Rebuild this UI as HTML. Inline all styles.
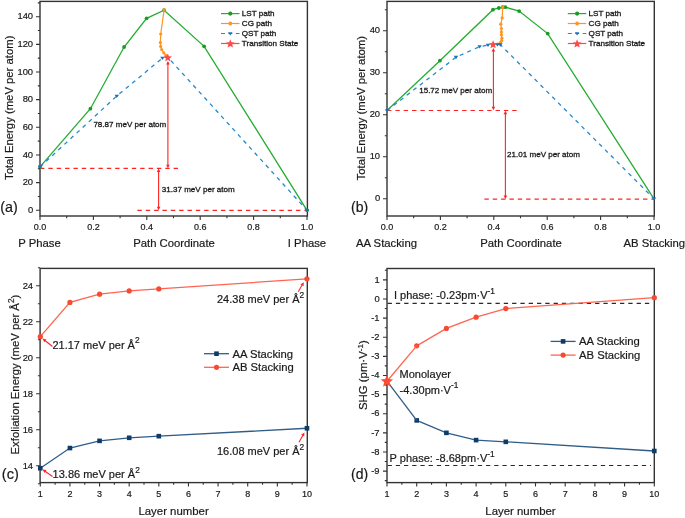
<!DOCTYPE html><html><head><meta charset="utf-8"><style>html,body{margin:0;padding:0;background:#fff;}svg{display:block;will-change:transform;}</style></head><body>
<svg width="685" height="518" viewBox="0 0 685 518" font-family='"Liberation Sans", sans-serif'>
<style>text{stroke:#1a1a1a;stroke-width:0.2px;}</style>
<rect width="685" height="518" fill="#fff"/>
<rect x="40" y="1.4" width="267.4" height="214.6" fill="none" stroke="#333333" stroke-width="1.4"/>
<line x1="40" y1="168.4" x2="178.8" y2="168.4" stroke="#ff2424" stroke-width="1.1" stroke-dasharray="4.4 3.95"/>
<line x1="137.4" y1="210.4" x2="307" y2="210.4" stroke="#ff2424" stroke-width="1.1" stroke-dasharray="4.4 3.95"/>
<line x1="167.9" y1="63.1" x2="167.9" y2="166.1" stroke="#ff2424" stroke-width="1.1"/>
<polygon points="167.9,61 166.1,64.5 169.7,64.5" fill="#ff2424"/>
<polygon points="167.9,168.2 166.1,164.7 169.7,164.7" fill="#ff2424"/>
<line x1="158.6" y1="170.7" x2="158.6" y2="208.1" stroke="#ff2424" stroke-width="1.1"/>
<polygon points="158.6,168.6 156.8,172.1 160.4,172.1" fill="#ff2424"/>
<polygon points="158.6,210.2 156.8,206.7 160.4,206.7" fill="#ff2424"/>
<polyline points="40,166.92 90.4,108.7 124.1,47 146.6,18.3 164.1,10.2 204.1,46.3 307,210.3" fill="none" stroke="#25ad32" stroke-width="1.3"/>
<circle cx="40" cy="166.92" r="1.9" fill="#1b9a25"/>
<circle cx="90.4" cy="108.7" r="1.9" fill="#1b9a25"/>
<circle cx="124.1" cy="47" r="1.9" fill="#1b9a25"/>
<circle cx="146.6" cy="18.3" r="1.9" fill="#1b9a25"/>
<circle cx="164.1" cy="10.2" r="1.9" fill="#1b9a25"/>
<circle cx="204.1" cy="46.3" r="1.9" fill="#1b9a25"/>
<circle cx="307" cy="210.3" r="1.9" fill="#1b9a25"/>
<polyline points="164.1,10.2 160.7,34 160.4,42.6 160.7,46.4 161.7,49.6 163.8,52.8 166,55.3 167.8,57.5" fill="none" stroke="#ff951f" stroke-width="1.2"/>
<circle cx="160.7" cy="34" r="1.6" fill="#ff951f"/>
<circle cx="160.4" cy="42.6" r="1.6" fill="#ff951f"/>
<circle cx="160.7" cy="46.4" r="1.6" fill="#ff951f"/>
<circle cx="161.7" cy="49.6" r="1.6" fill="#ff951f"/>
<circle cx="163.8" cy="52.8" r="1.6" fill="#ff951f"/>
<circle cx="166" cy="55.3" r="1.6" fill="#ff951f"/>
<rect x="162.6" y="8.7" width="3" height="3" fill="#ff951f"/>
<polyline points="40,166.92 116.8,96 162.4,58.1 167.3,56.7 307,210.3" fill="none" stroke="#2389d2" stroke-width="1.3" stroke-dasharray="4 4.3"/>
<polygon points="37.76,165.57 42.24,165.57 40,168.93" fill="#1b72b8"/>
<polygon points="114.56,94.66 119.04,94.66 116.8,98.02" fill="#1b72b8"/>
<polygon points="160.16,56.76 164.64,56.76 162.4,60.12" fill="#1b72b8"/>
<polygon points="304.76,208.96 309.24,208.96 307,212.32" fill="#1b72b8"/>
<polygon points="167.8,53.4 168.95,56.32 172.08,56.51 169.65,58.5 170.45,61.54 167.8,59.85 165.15,61.54 165.95,58.5 163.52,56.51 166.65,56.32" fill="#ff4848"/>
<text x="93.4" y="127.2" font-size="8.05" text-anchor="start" fill="#1a1a1a" style="stroke-width:0.3px">78.87 meV per atom</text>
<text x="161.8" y="192.4" font-size="8.05" text-anchor="start" fill="#1a1a1a" style="stroke-width:0.3px">31.37 meV per atom</text>
<path d="M36 210.3H40M36 182.64H40M36 154.98H40M36 127.32H40M36 99.66H40M36 72H40M36 44.34H40M36 16.68H40M37.8 196.47H40M37.8 168.81H40M37.8 141.15H40M37.8 113.49H40M37.8 85.83H40M37.8 58.17H40M37.8 30.51H40M37.8 2.85H40" stroke="#333333" stroke-width="1.1" fill="none"/>
<path d="M40 216V220M93.4 216V220M146.8 216V220M200.2 216V220M253.6 216V220M307 216V220M66.7 216V218.2M120.1 216V218.2M173.5 216V218.2M226.9 216V218.2M280.3 216V218.2" stroke="#333333" stroke-width="1.1" fill="none"/>
<text x="33.1" y="212.9" font-size="9.4" text-anchor="end" fill="#1a1a1a">0</text>
<text x="33.1" y="185.24" font-size="9.4" text-anchor="end" fill="#1a1a1a">20</text>
<text x="33.1" y="157.58" font-size="9.4" text-anchor="end" fill="#1a1a1a">40</text>
<text x="33.1" y="129.92" font-size="9.4" text-anchor="end" fill="#1a1a1a">60</text>
<text x="33.1" y="102.26" font-size="9.4" text-anchor="end" fill="#1a1a1a">80</text>
<text x="33.1" y="74.6" font-size="9.4" text-anchor="end" fill="#1a1a1a">100</text>
<text x="33.1" y="46.94" font-size="9.4" text-anchor="end" fill="#1a1a1a">120</text>
<text x="33.1" y="19.28" font-size="9.4" text-anchor="end" fill="#1a1a1a">140</text>
<text x="40" y="230.3" font-size="9" text-anchor="middle" fill="#1a1a1a">0.0</text>
<text x="93.4" y="230.3" font-size="9" text-anchor="middle" fill="#1a1a1a">0.2</text>
<text x="146.8" y="230.3" font-size="9" text-anchor="middle" fill="#1a1a1a">0.4</text>
<text x="200.2" y="230.3" font-size="9" text-anchor="middle" fill="#1a1a1a">0.6</text>
<text x="253.6" y="230.3" font-size="9" text-anchor="middle" fill="#1a1a1a">0.8</text>
<text x="307" y="230.3" font-size="9" text-anchor="middle" fill="#1a1a1a">1.0</text>
<text x="39.5" y="247.3" font-size="11.3" text-anchor="middle" fill="#1a1a1a">P Phase</text>
<text x="174" y="247.3" font-size="11.3" text-anchor="middle" fill="#1a1a1a">Path Coordinate</text>
<text x="307" y="247.3" font-size="11.3" text-anchor="middle" fill="#1a1a1a">I Phase</text>
<text x="0.3" y="212" font-size="14.3" text-anchor="start" fill="#1a1a1a">(a)</text>
<text transform="translate(12.6 107.8) rotate(-90)" font-size="11.3" text-anchor="middle" fill="#1a1a1a">Total Energy (meV per atom)</text>
<line x1="221" y1="13.6" x2="239.5" y2="13.6" stroke="#25ad32" stroke-width="1.2"/>
<circle cx="230.3" cy="13.6" r="2.1" fill="#1b9a25"/>
<line x1="221" y1="23.5" x2="239.5" y2="23.5" stroke="#ff951f" stroke-width="1.2"/>
<circle cx="230.3" cy="23.5" r="1.9" fill="#ff951f"/>
<line x1="221" y1="33.5" x2="239.5" y2="33.5" stroke="#2389d2" stroke-width="1.2" stroke-dasharray="4 3.4"/>
<polygon points="228.06,32.16 232.54,32.16 230.3,35.52" fill="#1b72b8"/>
<line x1="221" y1="43.5" x2="239.5" y2="43.5" stroke="#ff4848" stroke-width="1.2"/>
<polygon points="230.3,39.3 231.48,42.28 234.67,42.48 232.2,44.52 233,47.62 230.3,45.9 227.6,47.62 228.4,44.52 225.93,42.48 229.12,42.28" fill="#ff4848"/>
<text x="241.8" y="16.1" font-size="8.1" text-anchor="start" fill="#1a1a1a" style="stroke-width:0.32px">LST path</text>
<text x="241.8" y="26" font-size="8.1" text-anchor="start" fill="#1a1a1a" style="stroke-width:0.32px">CG path</text>
<text x="241.8" y="36" font-size="8.1" text-anchor="start" fill="#1a1a1a" style="stroke-width:0.32px">QST path</text>
<text x="241.8" y="46" font-size="8.1" text-anchor="start" fill="#1a1a1a" style="stroke-width:0.32px">Transition State</text>
<rect x="387" y="1.4" width="267.3" height="214.6" fill="none" stroke="#333333" stroke-width="1.4"/>
<line x1="387" y1="110.5" x2="517.8" y2="110.5" stroke="#ff2424" stroke-width="1.1" stroke-dasharray="4.4 3.95"/>
<line x1="484.4" y1="199.1" x2="654" y2="199.1" stroke="#ff2424" stroke-width="1.1" stroke-dasharray="4.4 3.95"/>
<line x1="493.4" y1="50.1" x2="493.4" y2="108.2" stroke="#ff2424" stroke-width="1.1"/>
<polygon points="493.4,48 491.6,51.5 495.2,51.5" fill="#ff2424"/>
<polygon points="493.4,110.3 491.6,106.8 495.2,106.8" fill="#ff2424"/>
<line x1="505.4" y1="112.8" x2="505.4" y2="196.8" stroke="#ff2424" stroke-width="1.1"/>
<polygon points="505.4,110.7 503.6,114.2 507.2,114.2" fill="#ff2424"/>
<polygon points="505.4,198.9 503.6,195.4 507.2,195.4" fill="#ff2424"/>
<polyline points="387,110.56 439.9,60.7 493,9.7 498.8,8 502.7,7.2 505.3,7.2 519.1,11.1 547.7,33.6 654,198.8" fill="none" stroke="#25ad32" stroke-width="1.3"/>
<circle cx="439.9" cy="60.7" r="1.9" fill="#1b9a25"/>
<circle cx="493" cy="9.7" r="1.9" fill="#1b9a25"/>
<circle cx="498.8" cy="8" r="1.9" fill="#1b9a25"/>
<circle cx="502.7" cy="7.2" r="1.9" fill="#1b9a25"/>
<circle cx="505.3" cy="7.2" r="1.9" fill="#1b9a25"/>
<circle cx="519.1" cy="11.1" r="1.9" fill="#1b9a25"/>
<circle cx="547.7" cy="33.6" r="1.9" fill="#1b9a25"/>
<polyline points="502.7,7.2 502.2,17.9 500.8,24.2 501.4,28.5 501.4,31.9 501.4,34.8 501.9,38.2 501.7,40.6 500.5,42.6 497.5,44 493.4,44.6" fill="none" stroke="#ff951f" stroke-width="1.2"/>
<circle cx="502.2" cy="17.9" r="1.6" fill="#ff951f"/>
<circle cx="500.8" cy="24.2" r="1.6" fill="#ff951f"/>
<circle cx="501.4" cy="28.5" r="1.6" fill="#ff951f"/>
<circle cx="501.4" cy="31.9" r="1.6" fill="#ff951f"/>
<circle cx="501.4" cy="34.8" r="1.6" fill="#ff951f"/>
<circle cx="501.9" cy="38.2" r="1.6" fill="#ff951f"/>
<circle cx="501.7" cy="40.6" r="1.6" fill="#ff951f"/>
<circle cx="500.5" cy="42.6" r="1.6" fill="#ff951f"/>
<circle cx="497.5" cy="44" r="1.6" fill="#ff951f"/>
<rect x="501.2" y="5.7" width="3" height="3" fill="#ff951f"/>
<polyline points="387,110.56 456,57.2 479.6,46.6 488,45 493.2,44.7 497.4,44.6 500.4,44.7 654,198.8" fill="none" stroke="#2389d2" stroke-width="1.3" stroke-dasharray="4 4.3"/>
<polygon points="384.76,109.21 389.24,109.21 387,112.57" fill="#1b72b8"/>
<polygon points="453.76,55.86 458.24,55.86 456,59.22" fill="#1b72b8"/>
<polygon points="477.36,45.26 481.84,45.26 479.6,48.62" fill="#1b72b8"/>
<polygon points="485.76,43.66 490.24,43.66 488,47.02" fill="#1b72b8"/>
<polygon points="495.16,43.26 499.64,43.26 497.4,46.62" fill="#1b72b8"/>
<polygon points="498.16,43.36 502.64,43.36 500.4,46.72" fill="#1b72b8"/>
<polygon points="651.76,197.46 656.24,197.46 654,200.82" fill="#1b72b8"/>
<polygon points="493.1,40.2 494.25,43.12 497.38,43.31 494.95,45.3 495.75,48.34 493.1,46.65 490.45,48.34 491.25,45.3 488.82,43.31 491.95,43.12" fill="#ff4848"/>
<text x="419.2" y="92.7" font-size="8.05" text-anchor="start" fill="#1a1a1a" style="stroke-width:0.3px">15.72 meV per atom</text>
<text x="507.1" y="156.6" font-size="8.05" text-anchor="start" fill="#1a1a1a" style="stroke-width:0.3px">21.01 meV per atom</text>
<path d="M383 198.8H387M383 156.8H387M383 114.8H387M383 72.8H387M383 30.8H387M384.8 177.8H387M384.8 135.8H387M384.8 93.8H387M384.8 51.8H387M384.8 9.8H387" stroke="#333333" stroke-width="1.1" fill="none"/>
<path d="M387 216V220M440.4 216V220M493.8 216V220M547.2 216V220M600.6 216V220M654 216V220M413.7 216V218.2M467.1 216V218.2M520.5 216V218.2M573.9 216V218.2M627.3 216V218.2" stroke="#333333" stroke-width="1.1" fill="none"/>
<text x="380.1" y="201.3" font-size="9.4" text-anchor="end" fill="#1a1a1a">0</text>
<text x="380.1" y="159.3" font-size="9.4" text-anchor="end" fill="#1a1a1a">10</text>
<text x="380.1" y="117.3" font-size="9.4" text-anchor="end" fill="#1a1a1a">20</text>
<text x="380.1" y="75.3" font-size="9.4" text-anchor="end" fill="#1a1a1a">30</text>
<text x="380.1" y="33.3" font-size="9.4" text-anchor="end" fill="#1a1a1a">40</text>
<text x="387" y="230.3" font-size="9" text-anchor="middle" fill="#1a1a1a">0.0</text>
<text x="440.4" y="230.3" font-size="9" text-anchor="middle" fill="#1a1a1a">0.2</text>
<text x="493.8" y="230.3" font-size="9" text-anchor="middle" fill="#1a1a1a">0.4</text>
<text x="547.2" y="230.3" font-size="9" text-anchor="middle" fill="#1a1a1a">0.6</text>
<text x="600.6" y="230.3" font-size="9" text-anchor="middle" fill="#1a1a1a">0.8</text>
<text x="654" y="230.3" font-size="9" text-anchor="middle" fill="#1a1a1a">1.0</text>
<text x="386.5" y="247.3" font-size="11.3" text-anchor="middle" fill="#1a1a1a">AA Stacking</text>
<text x="521" y="247.3" font-size="11.3" text-anchor="middle" fill="#1a1a1a">Path Coordinate</text>
<text x="654.3" y="247.3" font-size="11.3" text-anchor="middle" fill="#1a1a1a">AB Stacking</text>
<text x="351" y="212" font-size="14" text-anchor="start" fill="#1a1a1a">(b)</text>
<text transform="translate(364.8 108.2) rotate(-90)" font-size="11.3" text-anchor="middle" fill="#1a1a1a">Total Energy (meV per atom)</text>
<line x1="567.8" y1="13.6" x2="586.3" y2="13.6" stroke="#25ad32" stroke-width="1.2"/>
<circle cx="577.1" cy="13.6" r="2.1" fill="#1b9a25"/>
<line x1="567.8" y1="23.5" x2="586.3" y2="23.5" stroke="#ff951f" stroke-width="1.2"/>
<circle cx="577.1" cy="23.5" r="1.9" fill="#ff951f"/>
<line x1="567.8" y1="33.5" x2="586.3" y2="33.5" stroke="#2389d2" stroke-width="1.2" stroke-dasharray="4 3.4"/>
<polygon points="574.86,32.16 579.34,32.16 577.1,35.52" fill="#1b72b8"/>
<line x1="567.8" y1="43.5" x2="586.3" y2="43.5" stroke="#ff4848" stroke-width="1.2"/>
<polygon points="577.1,39.3 578.28,42.28 581.47,42.48 579,44.52 579.8,47.62 577.1,45.9 574.4,47.62 575.2,44.52 572.73,42.48 575.92,42.28" fill="#ff4848"/>
<text x="588.6" y="16.1" font-size="8.1" text-anchor="start" fill="#1a1a1a" style="stroke-width:0.32px">LST path</text>
<text x="588.6" y="26" font-size="8.1" text-anchor="start" fill="#1a1a1a" style="stroke-width:0.32px">CG path</text>
<text x="588.6" y="36" font-size="8.1" text-anchor="start" fill="#1a1a1a" style="stroke-width:0.32px">QST path</text>
<text x="588.6" y="46" font-size="8.1" text-anchor="start" fill="#1a1a1a" style="stroke-width:0.32px">Transition State</text>
<rect x="40.1" y="268.4" width="267.2" height="214.2" fill="none" stroke="#333333" stroke-width="1.4"/>
<polyline points="40.3,468.22 69.93,448.06 99.56,440.86 129.19,437.8 158.82,436.18 306.97,428.26" fill="none" stroke="#2f5c88" stroke-width="1.3"/>
<rect x="38" y="465.92" width="4.6" height="4.6" fill="#0f3b69"/>
<rect x="67.63" y="445.76" width="4.6" height="4.6" fill="#0f3b69"/>
<rect x="97.26" y="438.56" width="4.6" height="4.6" fill="#0f3b69"/>
<rect x="126.89" y="435.5" width="4.6" height="4.6" fill="#0f3b69"/>
<rect x="156.52" y="433.88" width="4.6" height="4.6" fill="#0f3b69"/>
<rect x="304.67" y="425.96" width="4.6" height="4.6" fill="#0f3b69"/>
<polyline points="40.3,336.64 69.93,302.44 99.56,294.16 129.19,290.92 158.82,288.94 306.97,278.86" fill="none" stroke="#ff6450" stroke-width="1.3"/>
<circle cx="40.3" cy="336.64" r="2.6" fill="#f64a32"/>
<circle cx="69.93" cy="302.44" r="2.6" fill="#f64a32"/>
<circle cx="99.56" cy="294.16" r="2.6" fill="#f64a32"/>
<circle cx="129.19" cy="290.92" r="2.6" fill="#f64a32"/>
<circle cx="158.82" cy="288.94" r="2.6" fill="#f64a32"/>
<circle cx="306.97" cy="278.86" r="2.6" fill="#f64a32"/>
<line x1="52.5" y1="346.5" x2="44.94" y2="340.47" stroke="#ff2424" stroke-width="1.1"/>
<polygon points="42.6,338.6 46.46,339.38 44.21,342.19" fill="#ff2424"/>
<line x1="52.5" y1="476.5" x2="45.06" y2="471.32" stroke="#ff2424" stroke-width="1.1"/>
<polygon points="42.6,469.6 46.5,470.12 44.44,473.08" fill="#ff2424"/>
<line x1="298.2" y1="291.8" x2="302.29" y2="284.79" stroke="#ff2424" stroke-width="1.1"/>
<polygon points="303.8,282.2 303.59,286.13 300.48,284.32" fill="#ff2424"/>
<line x1="299" y1="442.3" x2="302.94" y2="435.22" stroke="#ff2424" stroke-width="1.1"/>
<polygon points="304.4,432.6 304.27,436.53 301.12,434.78" fill="#ff2424"/>
<text x="52.4" y="348.5" font-size="11" text-anchor="start" fill="#1a1a1a">21.17 meV per Å<tspan font-size="8.36" dy="-5.2">2</tspan></text>
<text x="52.6" y="477.8" font-size="11" text-anchor="start" fill="#1a1a1a">13.86 meV per Å<tspan font-size="8.36" dy="-5.2">2</tspan></text>
<text x="217" y="302.9" font-size="11" text-anchor="start" fill="#1a1a1a">24.38 meV per Å<tspan font-size="8.36" dy="-5.2">2</tspan></text>
<text x="217" y="455.3" font-size="11" text-anchor="start" fill="#1a1a1a">16.08 meV per Å<tspan font-size="8.36" dy="-5.2">2</tspan></text>
<path d="M36.1 465.7H40.1M36.1 429.7H40.1M36.1 393.7H40.1M36.1 357.7H40.1M36.1 321.7H40.1M36.1 285.7H40.1M37.9 483.7H40.1M37.9 447.7H40.1M37.9 411.7H40.1M37.9 375.7H40.1M37.9 339.7H40.1M37.9 303.7H40.1M37.9 267.7H40.1" stroke="#333333" stroke-width="1.1" fill="none"/>
<path d="M40.3 482.6V486.6M69.93 482.6V486.6M99.56 482.6V486.6M129.19 482.6V486.6M158.82 482.6V486.6M188.45 482.6V486.6M218.08 482.6V486.6M247.71 482.6V486.6M277.34 482.6V486.6M306.97 482.6V486.6M55.11 482.6V484.8M84.75 482.6V484.8M114.38 482.6V484.8M144 482.6V484.8M173.63 482.6V484.8M203.26 482.6V484.8M232.89 482.6V484.8M262.52 482.6V484.8M292.15 482.6V484.8" stroke="#333333" stroke-width="1.1" fill="none"/>
<text x="33.1" y="468.5" font-size="9.4" text-anchor="end" fill="#1a1a1a">14</text>
<text x="33.1" y="432.5" font-size="9.4" text-anchor="end" fill="#1a1a1a">16</text>
<text x="33.1" y="396.5" font-size="9.4" text-anchor="end" fill="#1a1a1a">18</text>
<text x="33.1" y="360.5" font-size="9.4" text-anchor="end" fill="#1a1a1a">20</text>
<text x="33.1" y="324.5" font-size="9.4" text-anchor="end" fill="#1a1a1a">22</text>
<text x="33.1" y="288.5" font-size="9.4" text-anchor="end" fill="#1a1a1a">24</text>
<text x="40.3" y="497.3" font-size="9" text-anchor="middle" fill="#1a1a1a">1</text>
<text x="69.93" y="497.3" font-size="9" text-anchor="middle" fill="#1a1a1a">2</text>
<text x="99.56" y="497.3" font-size="9" text-anchor="middle" fill="#1a1a1a">3</text>
<text x="129.19" y="497.3" font-size="9" text-anchor="middle" fill="#1a1a1a">4</text>
<text x="158.82" y="497.3" font-size="9" text-anchor="middle" fill="#1a1a1a">5</text>
<text x="188.45" y="497.3" font-size="9" text-anchor="middle" fill="#1a1a1a">6</text>
<text x="218.08" y="497.3" font-size="9" text-anchor="middle" fill="#1a1a1a">7</text>
<text x="247.71" y="497.3" font-size="9" text-anchor="middle" fill="#1a1a1a">8</text>
<text x="277.34" y="497.3" font-size="9" text-anchor="middle" fill="#1a1a1a">9</text>
<text x="306.97" y="497.3" font-size="9" text-anchor="middle" fill="#1a1a1a">10</text>
<text x="173.6" y="515" font-size="11.4" text-anchor="middle" fill="#1a1a1a">Layer number</text>
<text x="1.8" y="479" font-size="14.6" text-anchor="start" fill="#1a1a1a">(c)</text>
<text transform="translate(18.6 374.6) rotate(-90)" font-size="11.3" text-anchor="middle" fill="#1a1a1a">Exfoliation Energy (meV per Å<tspan font-size="8.2" dy="-4.6">2</tspan><tspan dy="4.6">)</tspan></text>
<line x1="204" y1="353.7" x2="229" y2="353.7" stroke="#2f5c88" stroke-width="1.3"/>
<rect x="214.2" y="351.4" width="4.6" height="4.6" fill="#0f3b69"/>
<line x1="204" y1="367.3" x2="229" y2="367.3" stroke="#ff6450" stroke-width="1.3"/>
<circle cx="216.5" cy="367.3" r="2.6" fill="#f64a32"/>
<text x="232.4" y="357.7" font-size="11.25" text-anchor="start" fill="#1a1a1a">AA Stacking</text>
<text x="232.4" y="371.3" font-size="11.25" text-anchor="start" fill="#1a1a1a">AB Stacking</text>
<rect x="387" y="268.5" width="267.3" height="214.1" fill="none" stroke="#333333" stroke-width="1.4"/>
<line x1="387.6" y1="303.4" x2="651" y2="303.4" stroke="#2a2a2a" stroke-width="1.1" stroke-dasharray="4.3 4.0"/>
<line x1="387.6" y1="465.45" x2="651" y2="465.45" stroke="#2a2a2a" stroke-width="1.1" stroke-dasharray="4.3 3.9"/>
<polyline points="416.7,420.41 446.4,432.84 476.1,440.11 505.8,441.83 654.3,451" fill="none" stroke="#2f5c88" stroke-width="1.3"/>
<rect x="414.4" y="418.11" width="4.6" height="4.6" fill="#0f3b69"/>
<rect x="444.1" y="430.54" width="4.6" height="4.6" fill="#0f3b69"/>
<rect x="473.8" y="437.81" width="4.6" height="4.6" fill="#0f3b69"/>
<rect x="503.5" y="439.53" width="4.6" height="4.6" fill="#0f3b69"/>
<rect x="652" y="448.7" width="4.6" height="4.6" fill="#0f3b69"/>
<line x1="387" y1="381.22" x2="416.7" y2="420.41" stroke="#2f5c88" stroke-width="1.3"/>
<polyline points="416.7,345.84 446.4,328.44 476.1,317.16 505.8,308.56 654.3,297.66" fill="none" stroke="#ff6450" stroke-width="1.3"/>
<circle cx="416.7" cy="345.84" r="2.6" fill="#f64a32"/>
<circle cx="446.4" cy="328.44" r="2.6" fill="#f64a32"/>
<circle cx="476.1" cy="317.16" r="2.6" fill="#f64a32"/>
<circle cx="505.8" cy="308.56" r="2.6" fill="#f64a32"/>
<circle cx="654.3" cy="297.66" r="2.6" fill="#f64a32"/>
<line x1="387" y1="381.22" x2="416.7" y2="345.84" stroke="#ff6450" stroke-width="1.3"/>
<text x="394" y="299.2" font-size="11" text-anchor="start" fill="#1a1a1a">I phase: -0.23pm·V<tspan font-size="8.36" dy="-5.2">-1</tspan></text>
<text x="389.6" y="462.2" font-size="11" text-anchor="start" fill="#1a1a1a">P phase: -8.68pm·V<tspan font-size="8.36" dy="-5.2">-1</tspan></text>
<text x="399.6" y="378.1" font-size="11" text-anchor="start" fill="#1a1a1a">Monolayer</text>
<text x="399.6" y="393.5" font-size="11" text-anchor="start" fill="#1a1a1a">-4.30pm·V<tspan font-size="8.36" dy="-5.2">-1</tspan></text>
<path d="M383 471.08H387M383 451.96H387M383 432.84H387M383 413.72H387M383 394.6H387M383 375.48H387M383 356.36H387M383 337.24H387M383 318.12H387M383 299H387M383 279.88H387M384.8 480.64H387M384.8 461.52H387M384.8 442.4H387M384.8 423.28H387M384.8 404.16H387M384.8 385.04H387M384.8 365.92H387M384.8 346.8H387M384.8 327.68H387M384.8 308.56H387M384.8 289.44H387M384.8 270.32H387" stroke="#333333" stroke-width="1.1" fill="none"/>
<path d="M387 482.6V486.6M416.7 482.6V486.6M446.4 482.6V486.6M476.1 482.6V486.6M505.8 482.6V486.6M535.5 482.6V486.6M565.2 482.6V486.6M594.9 482.6V486.6M624.6 482.6V486.6M654.3 482.6V486.6M401.85 482.6V484.8M431.55 482.6V484.8M461.25 482.6V484.8M490.95 482.6V484.8M520.65 482.6V484.8M550.35 482.6V484.8M580.05 482.6V484.8M609.75 482.6V484.8M639.45 482.6V484.8" stroke="#333333" stroke-width="1.1" fill="none"/>
<text x="379.6" y="473.78" font-size="9.4" text-anchor="end" fill="#1a1a1a">-9</text>
<text x="379.6" y="454.66" font-size="9.4" text-anchor="end" fill="#1a1a1a">-8</text>
<text x="379.6" y="435.54" font-size="9.4" text-anchor="end" fill="#1a1a1a">-7</text>
<text x="379.6" y="416.42" font-size="9.4" text-anchor="end" fill="#1a1a1a">-6</text>
<text x="379.6" y="397.3" font-size="9.4" text-anchor="end" fill="#1a1a1a">-5</text>
<text x="379.6" y="378.18" font-size="9.4" text-anchor="end" fill="#1a1a1a">-4</text>
<text x="379.6" y="359.06" font-size="9.4" text-anchor="end" fill="#1a1a1a">-3</text>
<text x="379.6" y="339.94" font-size="9.4" text-anchor="end" fill="#1a1a1a">-2</text>
<text x="379.6" y="320.82" font-size="9.4" text-anchor="end" fill="#1a1a1a">-1</text>
<text x="379.6" y="301.7" font-size="9.4" text-anchor="end" fill="#1a1a1a">0</text>
<text x="379.6" y="282.58" font-size="9.4" text-anchor="end" fill="#1a1a1a">1</text>
<text x="387" y="497.3" font-size="9" text-anchor="middle" fill="#1a1a1a">1</text>
<text x="416.7" y="497.3" font-size="9" text-anchor="middle" fill="#1a1a1a">2</text>
<text x="446.4" y="497.3" font-size="9" text-anchor="middle" fill="#1a1a1a">3</text>
<text x="476.1" y="497.3" font-size="9" text-anchor="middle" fill="#1a1a1a">4</text>
<text x="505.8" y="497.3" font-size="9" text-anchor="middle" fill="#1a1a1a">5</text>
<text x="535.5" y="497.3" font-size="9" text-anchor="middle" fill="#1a1a1a">6</text>
<text x="565.2" y="497.3" font-size="9" text-anchor="middle" fill="#1a1a1a">7</text>
<text x="594.9" y="497.3" font-size="9" text-anchor="middle" fill="#1a1a1a">8</text>
<text x="624.6" y="497.3" font-size="9" text-anchor="middle" fill="#1a1a1a">9</text>
<text x="654.3" y="497.3" font-size="9" text-anchor="middle" fill="#1a1a1a">10</text>
<text x="520.5" y="515" font-size="11.4" text-anchor="middle" fill="#1a1a1a">Layer number</text>
<text x="351" y="478.5" font-size="14" text-anchor="start" fill="#1a1a1a">(d)</text>
<text transform="translate(367.2 375.2) rotate(-90)" font-size="11.4" text-anchor="middle" fill="#1a1a1a">SHG (pm·V<tspan font-size="8" dy="-4.6">-1</tspan><tspan dy="4.6">)</tspan></text>
<line x1="550.6" y1="341.4" x2="575.6" y2="341.4" stroke="#2f5c88" stroke-width="1.3"/>
<rect x="560.8" y="339.1" width="4.6" height="4.6" fill="#0f3b69"/>
<line x1="550.6" y1="355.1" x2="575.6" y2="355.1" stroke="#ff6450" stroke-width="1.3"/>
<circle cx="563.1" cy="355.1" r="2.6" fill="#f64a32"/>
<text x="579" y="345.4" font-size="11.25" text-anchor="start" fill="#1a1a1a">AA Stacking</text>
<text x="579" y="359.1" font-size="11.25" text-anchor="start" fill="#1a1a1a">AB Stacking</text>
<polygon points="386.9,374.9 388.6,379.05 393.08,379.39 389.66,382.3 390.72,386.66 386.9,384.3 383.08,386.66 384.14,382.3 380.72,379.39 385.2,379.05" fill="#ff4b32"/>
</svg></body></html>
